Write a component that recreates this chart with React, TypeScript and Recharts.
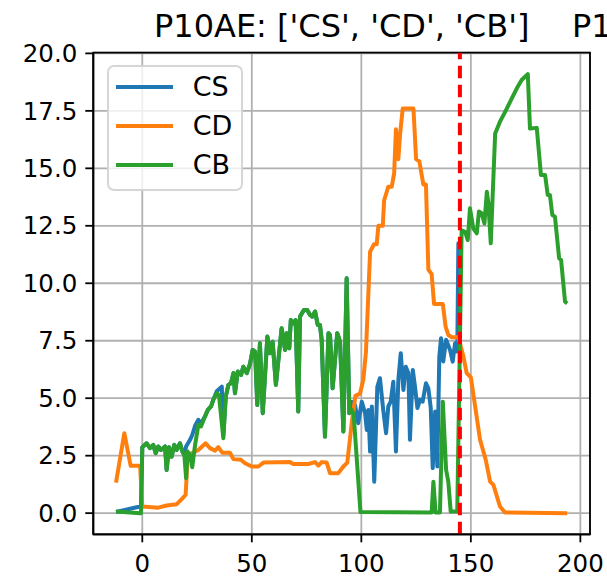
import React from "react";
import { LineChart, Line, XAxis, YAxis, CartesianGrid, Legend, ReferenceLine, ReferenceArea } from "recharts";

const FONT = "'DejaVu Sans', sans-serif";

const title = "P10AE: ['CS', 'CD', 'CB']";
const nextTitle = "P1";
const seriesNames = ["CS", "CD", "CB"];
const xTicks = [0, 50, 100, 150, 200];
const yTicks = [0, 2.5, 5, 7.5, 10, 12.5, 15, 17.5, 20];
const splitX = 145;

// [x, value] pairs
const csPoints: [number, number][] = [
  [-12, 0.05], [-0.6, 0.3], [0, 2.87], [2, 3.04], [3.5, 2.83], [5, 2.97], [6.1, 2.61], [7.3, 2.9],
  [8.5, 2.75], [10.4, 2.9], [11.1, 1.88], [12.2, 2.87], [13.4, 2.46], [14.6, 2.97], [15.7, 2.75],
  [17.2, 3.04], [18.3, 2.68], [19.2, 2.53], [20, 2.9], [21.8, 3.19], [22.8, 3.4], [24.1, 3.8],
  [25.6, 4.06], [26.8, 3.9], [28.6, 4.2], [29.9, 4.49], [31.4, 4.64], [32.4, 4.93], [34, 5.3],
  [35.5, 5.43], [36.3, 5.5], [37, 3.4], [38.1, 5.07], [39.3, 5.58], [40.5, 5.65], [41.6, 6.09],
  [42.3, 5.22], [43.6, 6.16], [45.1, 6.01], [46.1, 6.37], [47.7, 6.09], [49.2, 6.5], [50.4, 7.1],
  [51.5, 7.03], [52.5, 4.71], [53.7, 7.39], [55, 4.35], [57.1, 7.68], [58.3, 6.96], [59.5, 7.46],
  [61, 5.58], [63.6, 8.04], [65.2, 7.1], [65.9, 7.83], [67.1, 7.17], [67.8, 8.4], [69, 8.26],
  [70, 8.4], [71.2, 4.42], [72, 8.55], [73.8, 8.84], [75.3, 8.84], [76.6, 8.62], [77.6, 8.55],
  [78.9, 8.77], [80.1, 8.19], [81.1, 8.19], [81.9, 7.53], [83.4, 3.33], [85, 7.83], [85.7, 7.75],
  [86.9, 5.43], [89, 7.83], [90.3, 7.46], [91.8, 3.55], [93.3, 10.22], [94.5, 4.35], [95.6, 4.85],
  [97.1, 4.71], [98.6, 3.91], [100.2, 4.85], [101.7, 4.35], [102.5, 3.62], [103.2, 4.49], [104, 2.68],
  [104.8, 4.64], [105.9, 1.37], [107.3, 5.5], [108.5, 5.87], [110, 4.49], [111.3, 3.48], [112.3, 4.64],
  [113.4, 4.85], [114.6, 5.72], [115.8, 2.68], [116.9, 5.8], [118, 6.96], [119.2, 5.36], [120.3, 6.37],
  [121.5, 6.09], [122.2, 3.19], [123.5, 6.23], [124.5, 5.5], [125.6, 4.57], [126.8, 4.93], [128, 4.85],
  [129.5, 5.65], [130.6, 5.43], [131.7, 4.57], [132.6, 1.96], [133.7, 4.42], [134.7, 2.03], [135.6, 6.81],
  [136.4, 7.61], [137.4, 6.6], [138.7, 7.54], [140.5, 7.1], [141.7, 6.59], [142.8, 7.39], [143.8, 7.03],
  [144.3, 11.74], [145, 11.74],
];

const cdPoints: [number, number][] = [
  [-12, 1.33], [-8.2, 3.48], [-5.3, 2.06], [-1, 2.06], [0, 0.29], [7.3, 0.24], [11.1, 0.33],
  [15.7, 0.39], [18, 0.61], [19.8, 0.8], [20.7, 2.46], [22.5, 2.6], [25.6, 2.75], [28.9, 3.04],
  [30.9, 2.83], [33.2, 2.72], [34.7, 2.87], [36.5, 2.63], [40, 2.63], [41.6, 2.35], [45, 2.32],
  [46.9, 2.17], [50, 2.03], [53, 2.03], [55.3, 2.2], [67.4, 2.22], [69, 2.14], [75.8, 2.14],
  [78.9, 2.22], [80.4, 2.07], [81.9, 2.22], [84.2, 2.2], [85.7, 1.74], [89.5, 1.74], [91.8, 2.03],
  [93.6, 2.2], [95.6, 3.9], [97.3, 5.1], [99.4, 5.2], [100.9, 5.8], [102.1, 7.0], [104, 11.37],
  [105.8, 11.7], [107, 11.7], [107.8, 12.5], [109.8, 12.5], [110.4, 13.6], [112.3, 14.2], [113.9, 14.2],
  [115, 14.8], [115.8, 16.7], [116.9, 15.4], [117.7, 16.5], [118.9, 17.6], [123.8, 17.6], [125, 15.4],
  [126.5, 15.3], [128.3, 14.3], [129.5, 14.3], [130.6, 10.6], [132.1, 10.4], [133.2, 9.1], [137.2, 9.1],
  [138.5, 8.1], [139.7, 7.75], [141.3, 7.65], [144.3, 7.65], [146.6, 6.81], [148.1, 6.09], [150, 5.91],
  [154.2, 3.19], [156.8, 2.32], [158.8, 1.37], [160.3, 1.23], [163.3, 0.29], [165.6, 0.03], [194, 0.0],
];

const cbPoints: [number, number][] = [
  [-12, 0.07], [-1, 0], [-0.6, 0], [0, 2.87], [2, 3.04], [3.5, 2.83], [5, 2.97], [6.1, 2.61], [7.3, 2.9],
  [8.5, 2.75], [10.4, 2.9], [11.1, 1.88], [12.2, 2.87], [13.4, 2.46], [14.6, 2.97], [15.7, 2.75],
  [17.2, 3.04], [18.3, 2.68], [19.2, 2.53], [20, 1.52], [20.7, 2.68], [21.8, 2.53], [22.8, 2.0],
  [24.1, 2.97], [25.6, 3.84], [26.8, 3.77], [28.6, 4.2], [29.9, 4.49], [31.4, 4.64], [32.4, 4.93],
  [34, 5.22], [35, 5.14], [37, 3.26], [38.1, 5.07], [39.3, 5.58], [40.5, 5.65], [41.6, 6.09],
  [42.3, 5.22], [43.6, 6.16], [45.1, 6.01], [46.1, 6.37], [47.7, 6.09], [49.2, 6.5], [50.4, 7.1],
  [51.5, 7.03], [52.5, 4.71], [53.7, 7.39], [55, 4.35], [57.1, 7.68], [58.3, 6.96], [59.5, 7.46],
  [61, 5.58], [63.6, 8.04], [65.2, 7.1], [65.9, 7.83], [67.1, 7.17], [67.8, 8.4], [69, 8.26],
  [70, 8.4], [71.2, 4.42], [72, 8.55], [73.8, 8.84], [75.3, 8.84], [76.6, 8.62], [77.6, 8.55],
  [78.9, 8.77], [80.1, 8.19], [81.1, 8.19], [81.9, 7.53], [83.4, 3.33], [85, 7.83], [85.7, 7.75],
  [86.9, 5.43], [89, 7.83], [90.3, 7.46], [91.8, 3.55], [93.3, 10.22], [94.5, 4.35], [95.6, 4.49],
  [96.5, 4.3], [99.6, 0.05], [132.1, 0.03], [132.9, 1.37], [133.9, 0.03], [135.9, 0.03], [137.2, 4.85],
  [138.7, 1.88], [139.7, 1.37], [140.8, 0.07], [143.8, 0.07], [145.8, 12.3], [147.4, 12.24],
  [148.6, 11.88], [149.6, 13.26], [151.1, 12.39], [152.7, 12.17], [153.7, 13.12], [155, 13.04],
  [156.2, 12.6], [157.3, 13.98], [158, 13.48], [159.1, 11.74], [161.1, 16.52], [163.3, 17.03],
  [165.3, 17.39], [166.4, 17.6], [168.7, 18.04], [171, 18.48], [173.2, 18.84], [176, 19.1],
  [177, 16.73], [180.1, 16.76], [182, 14.71], [183.9, 14.71], [185.1, 13.84], [186.1, 13.84],
  [187.2, 12.97], [188.4, 12.9], [190.3, 11.09], [191.2, 11.01], [193, 9.2], [194, 9.13],
];

const toRows = (pts: [number, number][]) => pts.map(([x, y]) => ({ x, y }));

const X_DOMAIN: [number, number] = [-22.37, 204.4];
const Y_DOMAIN: [number, number] = [-0.92, 20.03];
const LW = 4;

function LegendBox(props: any) {
  const items = [...(props.payload ?? [])].sort(
    (a: any, b: any) => seriesNames.indexOf(a.value) - seriesNames.indexOf(b.value)
  );
  return (
    <div
      style={{
        position: "relative",
        width: 136,
        height: 126,
        boxSizing: "border-box",
        border: "2px solid rgba(204,204,204,0.8)",
        borderRadius: 7,
        background: "rgba(255,255,255,0.8)",
        fontFamily: FONT,
      }}
    >
      {items.map((it: any, i: number) => {
        const cy = 20.3 + i * 39;
        return (
          <React.Fragment key={it.value}>
            <div style={{ position: "absolute", left: 7.3, top: cy - LW / 2, width: 56.7, height: LW, background: it.color }} />
            <div style={{ position: "absolute", left: 84, top: cy - 16, height: 32, lineHeight: "32px", fontSize: 27, color: "#000" }}>
              {it.value}
            </div>
          </React.Fragment>
        );
      })}
    </div>
  );
}

export default function App() {
  const tickStyle = { fill: "#000", fontSize: 24.5, fontFamily: FONT };
  const lineProps = { dataKey: "y", type: "linear" as const, strokeWidth: LW, strokeLinejoin: "round" as const, dot: false, isAnimationActive: false };
  return (
    <div style={{ position: "absolute", left: 0, top: 0, width: 607, height: 585, overflow: "hidden", background: "#fff" }}>
      <svg width={607} height={60} style={{ position: "absolute", left: 0, top: 0 }}>
        <text x={341.7} y={37} textAnchor="middle" fontSize={32} fontFamily={FONT} fill="#000">
          {title}
        </text>
        <text x={572} y={37} fontSize={32} fontFamily={FONT} fill="#000">
          {nextTitle}
        </text>
      </svg>
      <LineChart width={607} height={585} margin={{ top: 52.7, right: 17, bottom: 10.7, left: 0 }}>
        <CartesianGrid stroke="#b0b0b0" strokeWidth={1.8} />
        <XAxis
          type="number"
          dataKey="x"
          domain={X_DOMAIN}
          ticks={xTicks}
          allowDataOverflow
          height={40}
          tickSize={8}
          tickMargin={12}
          tick={tickStyle}
          axisLine={{ stroke: "#000", strokeWidth: 1.8 }}
          tickLine={{ stroke: "#000", strokeWidth: 1.8 }}
        />
        <YAxis
          type="number"
          dataKey="y"
          domain={Y_DOMAIN}
          ticks={yTicks}
          allowDataOverflow
          width={93.3}
          tickSize={8}
          tickMargin={8}
          tick={tickStyle}
          tickFormatter={(v: number) => v.toFixed(1)}
          axisLine={{ stroke: "#000", strokeWidth: 1.8 }}
          tickLine={{ stroke: "#000", strokeWidth: 1.8 }}
        />
        <Line {...lineProps} data={toRows(csPoints)} name="CS" stroke="#1f77b4" />
        <Line {...lineProps} data={toRows(cdPoints)} name="CD" stroke="#ff7f0e" />
        <Line {...lineProps} data={toRows(cbPoints)} name="CB" stroke="#2ca02c" />
        <ReferenceLine x={splitX} stroke="#ff0000" strokeWidth={4} strokeDasharray="12.5 6.5" />
        <ReferenceArea
          x1={X_DOMAIN[0]}
          x2={X_DOMAIN[1]}
          y1={Y_DOMAIN[0]}
          y2={Y_DOMAIN[1]}
          fill="none"
          stroke="#000"
          strokeWidth={1.8}
          ifOverflow="visible"
        />
        <Legend
          layout="vertical"
          align="center"
          verticalAlign="middle"
          content={<LegendBox />}
          wrapperStyle={{ left: 106.7, top: 65, width: 136, height: 126 }}
        />
      </LineChart>
    </div>
  );
}
